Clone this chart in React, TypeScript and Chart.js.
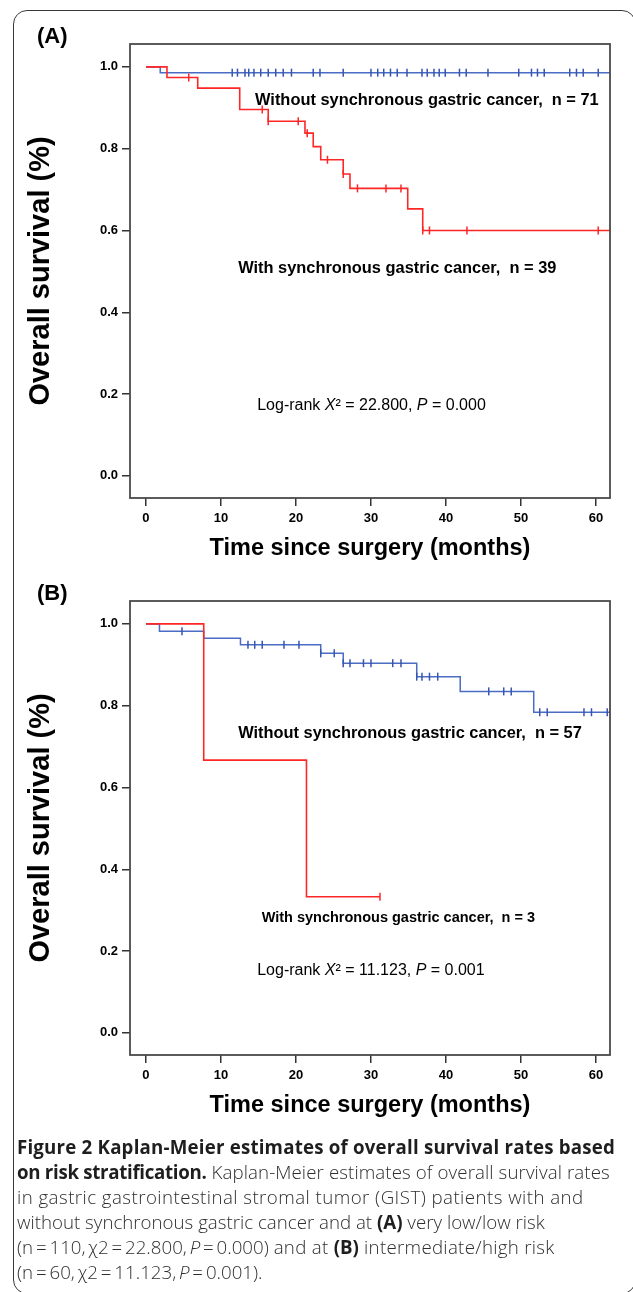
import React, { useEffect, useRef } from 'react';
import { Chart, registerables } from 'chart.js';

Chart.register(...registerables);

// ---------- axes ----------
const xTickValues = [0, 10, 20, 30, 40, 50, 60];
const yTickValues = [0, 0.2, 0.4, 0.6, 0.8, 1.0];
const xMin = -2.13;
const xMax = 61.87;
const yMin = -0.054;
const yMax = 1.056;

// ---------- panel A: very low / low risk ----------
const aWithEventTimes = [2.8, 6.9, 12.5, 16.3, 21.2, 22.3, 23.3, 26.3, 27.2, 34.9, 36.9];
const aWithLevels = [0.974, 0.948, 0.896, 0.867, 0.838, 0.805, 0.773, 0.738, 0.703, 0.653, 0.6];
const aWithCensored = [5.7, 15.5, 16.3, 20.3, 21.5, 24.2, 26.3, 28.2, 32.0, 34.0, 36.9, 37.8, 42.8, 60.3];
const aWithEnd = 61.87;

const aWithoutEventTimes = [1.9];
const aWithoutLevels = [0.986];
const aWithoutCensored = [
  11.5, 12.2, 13.2, 13.7, 14.4, 15.3, 16.3, 17.3, 18.3, 19.4, 22.3, 23.2, 26.3, 30.0, 30.9, 31.7,
  32.6, 33.5, 34.8, 36.8, 37.5, 38.4, 39.1, 39.9, 41.8, 42.7, 45.6, 49.7, 51.4, 52.2, 53.1, 56.5,
  57.4, 58.3, 60.3,
];
const aWithoutEnd = 61.87;

// ---------- panel B: intermediate / high risk ----------
const bWithEventTimes = [7.7, 21.4];
const bWithLevels = [0.667, 0.333];
const bWithCensored = [31.2];
const bWithEnd = 31.2;

const bWithoutEventTimes = [1.8, 7.7, 12.6, 23.3, 26.3, 36.1, 41.9, 51.7];
const bWithoutLevels = [0.982, 0.965, 0.949, 0.928, 0.904, 0.871, 0.835, 0.784];
const bWithoutCensored = [
  4.8, 13.6, 14.5, 15.5, 18.4, 20.4, 23.3, 25.1, 26.3, 27.2, 29.0, 30.0, 32.9, 34.0, 36.1, 36.8,
  37.8, 38.9, 45.7, 47.7, 48.7, 52.5, 53.5, 58.4, 59.4, 61.5,
];
const bWithoutEnd = 61.87;

// ---------- texts ----------
const yTitle = 'Overall survival (%)';
const xTitle = 'Time since surgery (months)';
const aWithoutLabel = 'Without synchronous gastric cancer,  n = 71';
const aWithLabel = 'With synchronous gastric cancer,  n = 39';
const bWithoutLabel = 'Without synchronous gastric cancer,  n = 57';
const bWithLabel = 'With synchronous gastric cancer,  n = 3';
const aChi = '22.800';
const aP = '0.000';
const bChi = '11.123';
const bP = '0.001';

const RED = '#ff2626';
const BLUE = '#4b6cc4';
const BLUE_MARK = '#3556b0';
const ARIAL = '"Liberation Sans", Arial, Helvetica, sans-serif';

type Pt = { x: number; y: number };

function curve(times: number[], levels: number[], end: number): Pt[] {
  const pts: Pt[] = [{ x: 0, y: 1 }];
  times.forEach((t, i) => pts.push({ x: t, y: levels[i] }));
  pts.push({ x: end, y: levels[levels.length - 1] });
  return pts;
}

function levelAt(times: number[], levels: number[], t: number): number {
  let s = 1;
  for (let i = 0; i < times.length; i++) if (times[i] <= t) s = levels[i];
  return s;
}

function marks(times: number[], levels: number[], cens: number[]): Pt[] {
  return cens.map((c) => ({ x: c, y: levelAt(times, levels, c) }));
}

type Part = { t: string; italic?: boolean };
type Annot = { x: number; y: number; bold: boolean; size: number; parts: Part[] };

function logRank(chi: string, p: string): Part[] {
  return [
    { t: 'Log-rank ' },
    { t: 'X', italic: true },
    { t: '\u00B2' },
    { t: ` = ${chi}, ` },
    { t: 'P', italic: true },
    { t: ` = ${p}` },
  ];
}

const decorPlugin = {
  id: 'decor',
  afterDraw(chart: any, _args: any, opts: any) {
    const { ctx, chartArea: ca, scales } = chart;
    const xs = scales.x;
    const ys = scales.y;
    ctx.save();
    // plot frame
    ctx.strokeStyle = '#4a4a4a';
    ctx.lineWidth = 1.8;
    ctx.strokeRect(ca.left, ca.top, ca.right - ca.left, ca.bottom - ca.top);

    ctx.fillStyle = '#000';
    ctx.textAlign = 'left';
    ctx.textBaseline = 'alphabetic';
    // panel letter
    ctx.font = `bold 22px ${ARIAL}`;
    ctx.fillText(opts.panel, 37, ca.top - 1);

    // y title
    ctx.save();
    ctx.translate(41, (ca.top + ca.bottom) / 2);
    ctx.rotate(-Math.PI / 2);
    ctx.textAlign = 'center';
    ctx.textBaseline = 'middle';
    ctx.font = `bold 29px ${ARIAL}`;
    ctx.fillText(yTitle, 0, 0);
    ctx.restore();

    // x title
    ctx.textAlign = 'center';
    ctx.font = `bold 23.5px ${ARIAL}`;
    ctx.fillText(xTitle, (ca.left + ca.right) / 2, ca.bottom + 57);

    // annotations
    ctx.textAlign = 'left';
    (opts.annots as Annot[]).forEach((a) => {
      let px = xs.getPixelForValue(a.x);
      const py = ys.getPixelForValue(a.y);
      a.parts.forEach((p) => {
        ctx.font = `${p.italic ? 'italic ' : ''}${a.bold ? 'bold ' : ''}${a.size}px ${ARIAL}`;
        ctx.fillText(p.t, px, py);
        px += ctx.measureText(p.t).width;
      });
    });
    ctx.restore();
  },
};

type PanelProps = {
  panel: string;
  withTimes: number[];
  withLevels: number[];
  withCens: number[];
  withEnd: number;
  woTimes: number[];
  woLevels: number[];
  woCens: number[];
  woEnd: number;
  annots: Annot[];
};

function Panel(props: PanelProps) {
  const ref = useRef<HTMLCanvasElement | null>(null);
  useEffect(() => {
    if (!ref.current) return;
    const tickFont = { family: ARIAL, size: 13, weight: 'bold' as const };
    const chart = new Chart(ref.current, {
      type: 'line',
      data: {
        datasets: [
          {
            type: 'scatter',
            data: marks(props.withTimes, props.withLevels, props.withCens),
            pointStyle: 'line',
            rotation: 90,
            pointRadius: 4,
            pointBorderWidth: 1.5,
            borderColor: RED,
            backgroundColor: RED,
            showLine: false,
          } as any,
          {
            data: curve(props.withTimes, props.withLevels, props.withEnd),
            stepped: true,
            borderColor: RED,
            borderWidth: 1.6,
            pointRadius: 0,
            fill: false,
          },
          {
            type: 'scatter',
            data: marks(props.woTimes, props.woLevels, props.woCens),
            pointStyle: 'line',
            rotation: 90,
            pointRadius: 4,
            pointBorderWidth: 1.5,
            borderColor: BLUE_MARK,
            backgroundColor: BLUE_MARK,
            showLine: false,
          } as any,
          {
            data: curve(props.woTimes, props.woLevels, props.woEnd),
            stepped: true,
            borderColor: BLUE,
            borderWidth: 1.5,
            pointRadius: 0,
            fill: false,
          },
        ],
      },
      options: {
        responsive: false,
        animation: false,
        layout: { padding: { left: 0, right: 23, top: 44, bottom: 0 } },
        plugins: {
          legend: { display: false },
          tooltip: { enabled: false },
          decor: { panel: props.panel, annots: props.annots },
        } as any,
        scales: {
          x: {
            type: 'linear',
            min: xMin,
            max: xMax,
            afterBuildTicks: (s: any) => {
              s.ticks = xTickValues.map((v) => ({ value: v }));
            },
            afterFit: (s: any) => {
              s.height = 72;
            },
            grid: { drawOnChartArea: false, drawTicks: true, tickLength: 8, color: '#333', lineWidth: 1.5 },
            border: { display: false },
            ticks: {
              font: tickFont,
              color: '#000',
              padding: 5,
              maxRotation: 0,
              autoSkip: false,
              callback: (v: any) => String(v),
            },
          },
          y: {
            type: 'linear',
            min: yMin,
            max: yMax,
            afterBuildTicks: (s: any) => {
              s.ticks = yTickValues.map((v) => ({ value: v }));
            },
            afterFit: (s: any) => {
              s.width = 130;
            },
            grid: { drawOnChartArea: false, drawTicks: true, tickLength: 8, color: '#333', lineWidth: 1.5 },
            border: { display: false },
            ticks: {
              font: tickFont,
              color: '#000',
              padding: 4,
              autoSkip: false,
              callback: (v: any) => Number(v).toFixed(1),
            },
          },
        },
      },
      plugins: [decorPlugin],
    });
    return () => chart.destroy();
  }, []);
  return <canvas ref={ref} width={633} height={570} style={{ width: 633, height: 570, display: 'block' }} />;
}

const annotsA: Annot[] = [
  { x: 14.54, y: 0.908, bold: true, size: 16.4, parts: [{ t: aWithoutLabel }] },
  { x: 12.29, y: 0.495, bold: true, size: 16.4, parts: [{ t: aWithLabel }] },
  { x: 14.83, y: 0.161, bold: false, size: 16, parts: logRank(aChi, aP) },
];

const annotsB: Annot[] = [
  { x: 12.29, y: 0.721, bold: true, size: 16.4, parts: [{ t: bWithoutLabel }] },
  { x: 15.42, y: 0.27, bold: true, size: 14.5, parts: [{ t: bWithLabel }] },
  { x: 14.83, y: 0.142, bold: false, size: 16, parts: logRank(bChi, bP) },
];

const capFont = '"Open Sans", "Noto Sans", Lato, sans-serif';

export default function App() {
  const bold: React.CSSProperties = { fontWeight: 700, color: '#1e1e1e', letterSpacing: 0 };
  return (
    <div
      style={{
        position: 'absolute',
        left: 0,
        top: 0,
        width: 633,
        height: 1292,
        overflow: 'hidden',
        background: '#fff',
      }}
    >
      <div
        style={{
          position: 'absolute',
          left: 13,
          top: 10,
          width: 623,
          height: 1284,
          boxSizing: 'border-box',
          border: '1.5px solid #3a3a3a',
          borderRadius: 14,
        }}
      />
      <div style={{ position: 'absolute', left: 0, top: 0 }}>
        <Panel
          panel="(A)"
          withTimes={aWithEventTimes}
          withLevels={aWithLevels}
          withCens={aWithCensored}
          withEnd={aWithEnd}
          woTimes={aWithoutEventTimes}
          woLevels={aWithoutLevels}
          woCens={aWithoutCensored}
          woEnd={aWithoutEnd}
          annots={annotsA}
        />
      </div>
      <div style={{ position: 'absolute', left: 0, top: 557 }}>
        <Panel
          panel="(B)"
          withTimes={bWithEventTimes}
          withLevels={bWithLevels}
          withCens={bWithCensored}
          withEnd={bWithEnd}
          woTimes={bWithoutEventTimes}
          woLevels={bWithoutLevels}
          woCens={bWithoutCensored}
          woEnd={bWithoutEnd}
          annots={annotsB}
        />
      </div>
      <div
        style={{
          position: 'absolute',
          left: 17,
          top: 1134,
          fontFamily: capFont,
          fontSize: 18.7,
          lineHeight: '25px',
          fontWeight: 300,
          color: '#2e2e2e',
          whiteSpace: 'nowrap',
        }}
      >
        <div style={{ ...bold, letterSpacing: '0.2px' }}>
          Figure 2 Kaplan-Meier estimates of overall survival rates based
        </div>
        <div style={{ letterSpacing: '0.1px' }}>
          <span style={{ ...bold, letterSpacing: '-0.3px' }}>on risk stratification.</span> Kaplan-Meier estimates
          of overall survival rates
        </div>
        <div style={{ letterSpacing: '0.45px' }}>in gastric gastrointestinal stromal tumor (GIST) patients with and</div>
        <div>
          without synchronous gastric cancer and at <span style={bold}>(A)</span> very low/low risk
        </div>
        <div>
          <span style={{ wordSpacing: '-2px' }}>
            (n = 110, χ2 = 22.800, <i>P</i> = 0.000)
          </span>{' '}
          <span style={{ letterSpacing: '0.3px' }}>
            and at <span style={bold}>(B)</span> intermediate/high risk
          </span>
        </div>
        <div style={{ wordSpacing: '-2px' }}>
          (n = 60, χ2 = 11.123, <i>P</i> = 0.001).
        </div>
      </div>
    </div>
  );
}
